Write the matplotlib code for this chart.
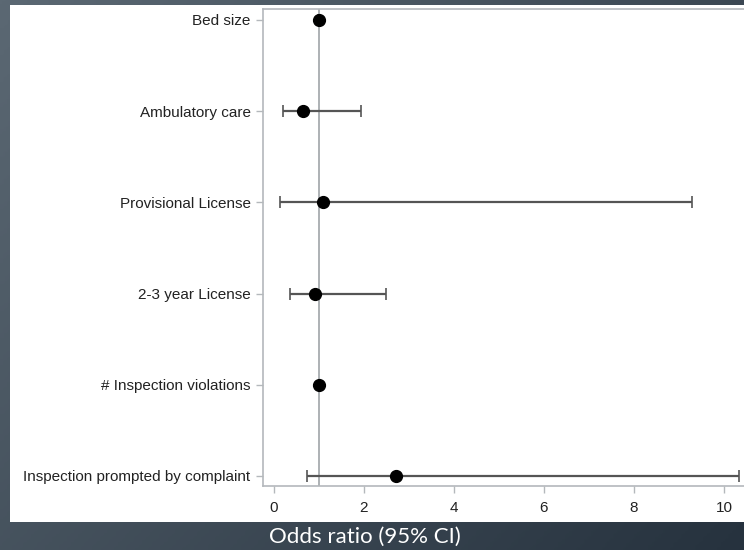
import matplotlib
matplotlib.use("Agg")
import matplotlib.pyplot as plt
import numpy as np
from matplotlib.patches import Rectangle

labels = [
    "Bed size",
    "Ambulatory care",
    "Provisional License",
    "2-3 year License",
    "# Inspection violations",
    "Inspection prompted by complaint",
]
odds = [1.0, 0.64, 1.09, 0.91, 1.01, 2.71]
ci_low = [0.98, 0.20, 0.13, 0.36, 0.99, 0.73]
ci_high = [1.02, 1.93, 9.30, 2.49, 1.03, 10.33]
xticks = [0, 2, 4, 6, 8, 10]

fig = plt.figure(figsize=(7.44, 5.5), dpi=100)

# dark slate gradient background
bg = fig.add_axes([0, 0, 1, 1], zorder=-10)
gx, gy = np.meshgrid(np.linspace(0, 1, 200), np.linspace(0, 1, 200))
grad = 0.6 * gx + 0.4 * gy
bg.imshow(grad, cmap=matplotlib.colors.LinearSegmentedColormap.from_list(
    "slate", ["#5b6873", "#26323e"]), extent=[0, 1, 0, 1], aspect="auto")
bg.axis("off")

# white panel
fig.patches.append(Rectangle((10 / 744, 28 / 550), 1, 517 / 550,
                             transform=fig.transFigure, facecolor="white",
                             edgecolor="none", zorder=-5))

ax = fig.add_axes([263 / 744, 64 / 550, 488 / 744, 477 / 550])
ax.set_facecolor("none")

y = np.arange(len(labels))
odds_a = np.array(odds)
err = [odds_a - np.array(ci_low), np.array(ci_high) - odds_a]
ax.axvline(1, color="#a0a4a8", lw=1.2, zorder=1)
ax.errorbar(odds, y, xerr=err, fmt="o", color="black", ms=8.5,
            ecolor="#555555", elinewidth=1.6, capsize=4.5, capthick=1.2, zorder=3)

ax.set_xlim(-0.244, 10.6)
ax.set_ylim(5.11, -0.12)
ax.set_yticks(y)
ax.set_yticklabels(labels)
ax.set_xticks(xticks)

for s in ax.spines.values():
    s.set_color("#b4b8bc")
    s.set_linewidth(1.2)
ax.spines["right"].set_visible(False)

ax.tick_params(colors="#b4b8bc", labelcolor="#222222", labelsize=11, length=5, width=1)
ax.tick_params(axis="y", pad=4)
ax.tick_params(axis="x", pad=6)
for t in ax.get_xticklabels() + ax.get_yticklabels():
    t.set_fontfamily("Liberation Sans")

fig.text(365 / 744, 13 / 550, "Odds ratio (95% CI)", color="white",
         fontsize=16, family="Lato", ha="center", va="center")

fig.savefig("out.png", dpi=100)
